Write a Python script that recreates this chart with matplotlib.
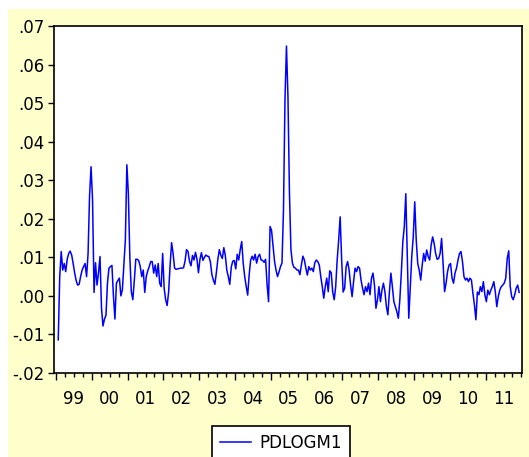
import numpy as np
import matplotlib
matplotlib.use("Agg")
import matplotlib.pyplot as plt
from matplotlib.patches import Rectangle
from matplotlib.ticker import FuncFormatter, MultipleLocator

plt.rcParams["font.family"] = "DejaVu Sans"
size = 12

# PDLOGM1, two readings per month starting mid Jan 1999
pdlogm1 = [
    -0.0114, 0.0050, 0.0115, 0.0067, 0.0084, 0.0063, 0.0095, 0.0110, 0.0116, 0.0106,
    0.0084, 0.0060, 0.0040, 0.0028, 0.0030, 0.0050, 0.0067, 0.0076, 0.0084, 0.0050,
    0.0110, 0.0260, 0.0335, 0.0250, 0.0009, 0.0086, 0.0028, 0.0060, 0.0102, -0.0032,
    -0.0078, -0.0060, -0.0050, 0.0033, 0.0072, 0.0076, 0.0079, 0.0000, -0.0060, 0.0033,
    0.0040, 0.0046, 0.0000, 0.0016, 0.0080, 0.0145, 0.0340, 0.0266, 0.0100, 0.0011,
    -0.0010, 0.0040, 0.0095, 0.0095, 0.0091, 0.0076, 0.0050, 0.0067, 0.0009, 0.0050,
    0.0065, 0.0076, 0.0089, 0.0089, 0.0059, 0.0080, 0.0050, 0.0084, 0.0033, 0.0024,
    0.0110, 0.0020, -0.0010, -0.0025, 0.0010, 0.0080, 0.0138, 0.0110, 0.0072, 0.0069,
    0.0070, 0.0071, 0.0072, 0.0072, 0.0073, 0.0090, 0.0120, 0.0115, 0.0090, 0.0078,
    0.0105, 0.0093, 0.0113, 0.0095, 0.0060, 0.0095, 0.0112, 0.0092, 0.0100, 0.0106,
    0.0103, 0.0102, 0.0088, 0.0055, 0.0041, 0.0030, 0.0060, 0.0095, 0.0120, 0.0105,
    0.0097, 0.0125, 0.0105, 0.0067, 0.0050, 0.0030, 0.0075, 0.0090, 0.0092, 0.0070,
    0.0108, 0.0093, 0.0120, 0.0141, 0.0085, 0.0050, 0.0025, 0.0002, 0.0055, 0.0093,
    0.0103, 0.0093, 0.0108, 0.0085, 0.0102, 0.0108, 0.0093, 0.0092, 0.0087, 0.0095,
    0.0030, -0.0015, 0.0180, 0.0170, 0.0130, 0.0090, 0.0067, 0.0050, 0.0062, 0.0076,
    0.0085, 0.0222, 0.0508, 0.0648, 0.0517, 0.0267, 0.0120, 0.0085, 0.0074, 0.0072,
    0.0067, 0.0067, 0.0055, 0.0080, 0.0103, 0.0093, 0.0072, 0.0054, 0.0076, 0.0067,
    0.0072, 0.0063, 0.0086, 0.0093, 0.0089, 0.0080, 0.0050, 0.0024, -0.0006, 0.0024,
    0.0046, 0.0011, 0.0065, 0.0060, 0.0010, -0.0010, 0.0024, 0.0093, 0.0145, 0.0205,
    0.0093, 0.0010, 0.0020, 0.0076, 0.0089, 0.0067, 0.0028, -0.0002, 0.0037, 0.0072,
    0.0063, 0.0076, 0.0072, 0.0041, 0.0020, 0.0003, 0.0024, 0.0011, 0.0033, 0.0003,
    0.0046, 0.0059, 0.0028, -0.0032, -0.0010, 0.0024, -0.0015, 0.0015, 0.0033, 0.0011,
    -0.0028, -0.0049, 0.0010, 0.0059, 0.0024, -0.0015, -0.0028, -0.0041, -0.0058, -0.0010,
    0.0060, 0.0140, 0.0180, 0.0265, 0.0100, -0.0058, 0.0024, 0.0102, 0.0153, 0.0244,
    0.0145, 0.0084, 0.0067, 0.0041, 0.0080, 0.0110, 0.0090, 0.0119, 0.0102, 0.0093,
    0.0132, 0.0153, 0.0136, 0.0110, 0.0095, 0.0097, 0.0110, 0.0149, 0.0084, 0.0011,
    0.0033, 0.0063, 0.0080, 0.0084, 0.0046, 0.0033, 0.0059, 0.0072, 0.0093, 0.0110,
    0.0115, 0.0089, 0.0050, 0.0041, 0.0046, 0.0037, 0.0046, 0.0041, 0.0007, -0.0023,
    -0.0062, 0.0010, 0.0003, 0.0024, 0.0011, 0.0037, 0.0003, -0.0015, 0.0015, 0.0003,
    0.0015, 0.0024, 0.0037, 0.0011, -0.0028, -0.0002, 0.0015, 0.0024, 0.0028, 0.0033,
    0.0046, 0.0097, 0.0117, 0.0024, -0.0002, -0.0010, 0.0003, 0.0020, 0.0028, 0.0009,
]
start_year = 1999
years = list(range(1999, 2012))
year_labels = ["%02d" % (y % 100) for y in years]

t = start_year + (np.arange(len(pdlogm1)) + 1.5) / 24.0

fig = plt.figure(figsize=(5.29, 4.57), dpi=100, facecolor="white")
fig.add_artist(Rectangle((8 / 529, 0), 1, (457 - 9) / 457, transform=fig.transFigure,
                         facecolor="#FFFFCC", edgecolor="none", zorder=-5))

ax = fig.add_axes([54 / 529, (457 - 373) / 457, 468 / 529, 347 / 457])
ax.set_facecolor("white")
ax.plot(t, pdlogm1, color="#0000FF", lw=1.1, label="PDLOGM1")

ax.set_ylim(-0.02, 0.07)
ax.yaxis.set_major_locator(MultipleLocator(0.01))
ax.yaxis.set_major_formatter(FuncFormatter(
    lambda v, p: ("%.2f" % v).replace("0.", ".", 1) if abs(v) > 1e-9 else ".00"))
ax.set_xlim(1999 - 2 / 35.8, 2012 + 0.6 / 35.8)
ax.set_xticks(years)
ax.set_xticklabels([])
ax.xaxis.set_minor_locator(MultipleLocator(0.25))

ax.tick_params(axis="y", direction="out", length=4, width=1, pad=3, labelsize=size)
ax.tick_params(axis="x", which="major", direction="out", length=5, width=1)
ax.tick_params(axis="x", which="minor", direction="out", length=3, width=1)
for s in ax.spines.values():
    s.set_linewidth(1.2)
    s.set_color("black")

# year labels centred in each year
sec = ax.secondary_xaxis("bottom")
sec.set_xticks([y + 0.5 for y in years], labels=year_labels)
sec.tick_params(length=0, pad=12, labelsize=size)
sec.spines["bottom"].set_visible(False)

lgnd = fig.legend(loc="upper left", bbox_to_anchor=(212 / 529, (457 - 426) / 457),
                  borderaxespad=0, frameon=True, fancybox=False, edgecolor="black",
                  framealpha=1, fontsize=size, borderpad=0.45, handlelength=1.9,
                  handletextpad=0.5)
lgnd.get_frame().set_linewidth(1.2)

plt.savefig("out.png", dpi=100)
